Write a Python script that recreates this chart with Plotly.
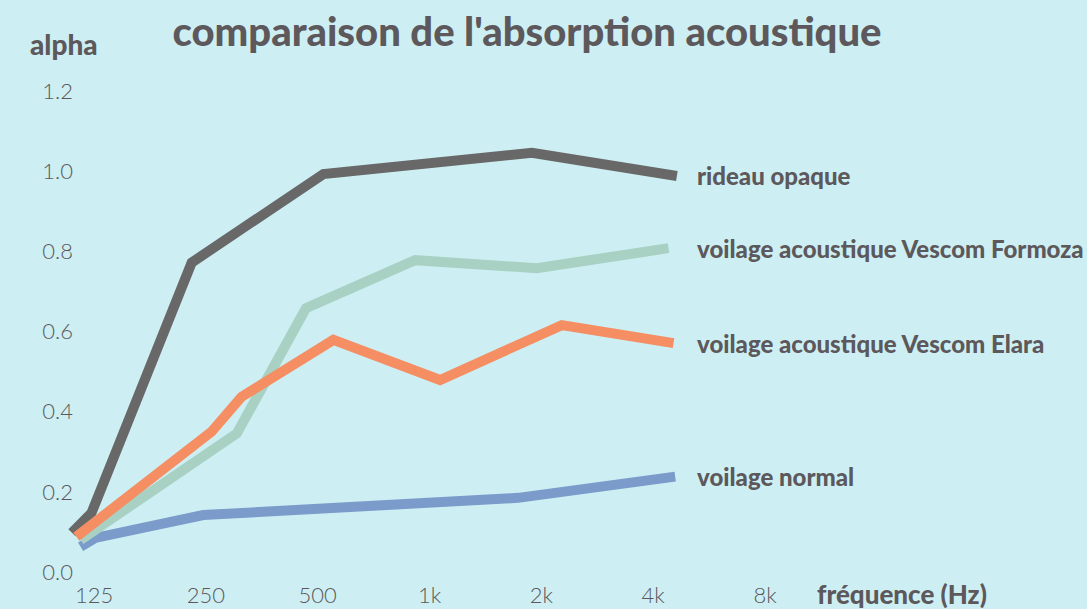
import math
import plotly.graph_objects as go

# ---- data (frequency in Hz, absorption coefficient alpha) ----
tick_vals = [125, 250, 500, 1000, 2000, 4000, 8000]
tick_text = ["125", "250", "500", "1k", "2k", "4k", "8k"]

normal_f = [115, 126, 246, 1732, 4585]
normal_a = [0.063, 0.085, 0.142, 0.185, 0.238]

opaque_f = [109, 123, 229, 518, 1887, 4633]
opaque_a = [0.098, 0.147, 0.772, 0.993, 1.046, 0.988]

formoza_f = [115, 303, 465, 915, 1945, 4400]
formoza_a = [0.080, 0.346, 0.658, 0.778, 0.758, 0.808]

elara_f = [112, 259, 312, 551, 1068, 2271, 4538]
elara_a = [0.088, 0.350, 0.437, 0.579, 0.479, 0.616, 0.571]

series = [
    ("voilage normal", normal_f, normal_a, "#7b9ccb"),
    ("rideau opaque", opaque_f, opaque_a, "#686868"),
    ("voilage acoustique Vescom Formoza", formoza_f, formoza_a, "#a8d1c3"),
    ("voilage acoustique Vescom Elara", elara_f, elara_a, "#f58e63"),
]

TXT = "#5c585b"
BG = "#cdeff3"
FONT = "Lato"

L, R, T, B = 64, 297, 79, 29
PW, PH = 1087 - L - R, 609 - T - B

fig = go.Figure()
for name, f, a, c in series:
    fig.add_trace(go.Scatter(x=f, y=a, mode="lines", name=name,
                             line=dict(color=c, width=10), showlegend=False))

label_x = math.log10(5200)
for name, f, a, c in series:
    fig.add_annotation(x=label_x, y=a[-1], xref="x", yref="y", text=name,
                       showarrow=False, xanchor="left", yanchor="middle",
                       font=dict(family=FONT, size=24, color=TXT, weight=900))

fig.add_annotation(x=(815 - L) / PW, y=(609 - B - 594) / PH, xref="paper", yref="paper",
                   text="fréquence (Hz)", showarrow=False, xanchor="left", yanchor="middle",
                   font=dict(family=FONT, size=26, color=TXT, weight=900))
fig.add_annotation(x=(28 - L) / PW, y=(609 - B - 44) / PH, xref="paper", yref="paper",
                   text="alpha", showarrow=False, xanchor="left", yanchor="middle",
                   font=dict(family=FONT, size=28, color=TXT, weight=900))

fig.update_layout(
    width=1087, height=609,
    paper_bgcolor=BG, plot_bgcolor=BG,
    margin=dict(l=L, r=R, t=T, b=B),
    title=dict(text="comparaison de l'absorption acoustique", x=527 / 1087, xanchor="center",
               y=1 - 32 / 609, yanchor="middle",
               font=dict(family=FONT, size=40, color=TXT, weight=900)),
    font=dict(family=FONT, color=TXT),
    xaxis=dict(type="log", range=[2.0161, 3.9704], tickvals=tick_vals, ticktext=tick_text,
               showgrid=False, zeroline=False, showline=False, ticks="", automargin=False,
               tickfont=dict(family=FONT, size=22, color=TXT, weight=300),
               ticklabelstandoff=0),
    yaxis=dict(range=[-0.02, 1.23], tickvals=[0, 0.2, 0.4, 0.6, 0.8, 1.0, 1.2],
               tickformat=".1f", showgrid=False, zeroline=False, showline=False, ticks="",
               automargin=False, ticklabelstandoff=-10,
               tickfont=dict(family=FONT, size=22, color=TXT, weight=300)),
)

fig.write_html("out.html", config={"displayModeBar": False},
               post_script="document.body.style.margin='0px';document.body.style.padding='0px';"
                           "document.body.style.background='" + BG + "';")
